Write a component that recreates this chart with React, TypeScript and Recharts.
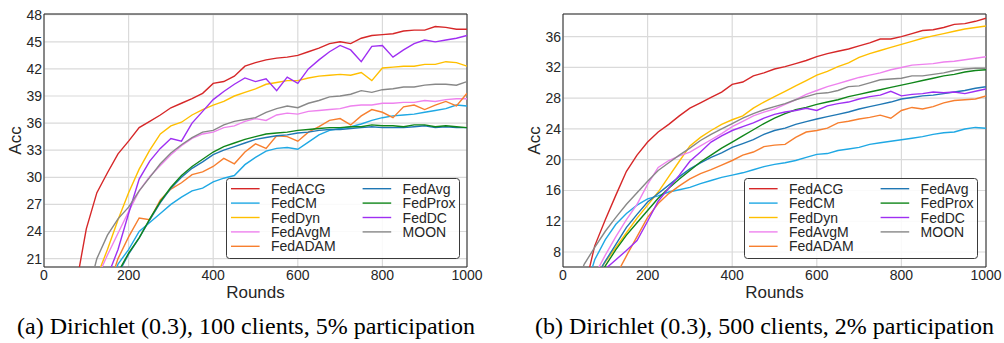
import React from 'react';
import { LineChart, Line, XAxis, YAxis, CartesianGrid, Legend, ReferenceArea } from 'recharts';

const ROUNDS = [0, 25, 50, 75, 100, 125, 150, 175, 200, 225, 250, 275, 300, 325, 350, 375, 400, 425, 450, 475, 500, 525, 550, 575, 600, 625, 650, 675, 700, 725, 750, 775, 800, 825, 850, 875, 900, 925, 950, 975, 1000];

const SERIES = ['FedACG', 'FedCM', 'FedDyn', 'FedAvgM', 'FedADAM', 'FedAvg', 'FedProx', 'FedDC', 'MOON'];
const COLORS = ['#d62728', '#1fa8e4', '#ffbf00', '#ee82ee', '#f77f2f', '#1f77b4', '#10861a', '#9f2ff2', '#888888'];

const X_TICKS = [0, 200, 400, 600, 800, 1000];
const A_Y_TICKS = [21, 24, 27, 30, 33, 36, 39, 42, 45, 48];
const B_Y_TICKS = [8, 12, 16, 20, 24, 28, 32, 36];
const A_DOMAIN = [20.07, 48.08];
const B_DOMAIN = [6.05, 38.95];

const CAPTION_A = '(a) Dirichlet (0.3), 100 clients, 5% participation';
const CAPTION_B = '(b) Dirichlet (0.3), 500 clients, 2% participation';

// (a) Dirichlet (0.3), 100 clients, 5% participation
const A_FedACG = [null, null, 14.5, 17.8, 24.3, 28.3, 30.5, 32.6, 34.0, 35.5, 36.2, 36.9, 37.7, 38.2, 38.7, 39.3, 40.4, 40.6, 41.2, 42.3, 42.7, 43.0, 43.2, 43.3, 43.5, 43.9, 44.3, 44.8, 45.0, 44.8, 45.4, 45.7, 45.8, 45.9, 46.2, 46.3, 46.3, 46.7, 46.6, 46.4, 46.4];
const A_FedCM = [null, null, null, null, null, null, 17.0, 20.4, 22.0, 24.0, 25.0, 26.0, 27.0, 27.8, 28.5, 28.8, 29.5, 29.9, 30.2, 31.4, 32.2, 32.9, 33.2, 33.3, 33.1, 33.9, 34.7, 35.2, 35.4, 35.6, 35.9, 36.3, 36.6, 36.8, 36.9, 37.0, 37.2, 37.4, 37.6, 38.0, 37.9];
const A_FedDyn = [null, null, null, null, 16.0, 19.0, 22.0, 25.3, 28.3, 30.9, 33.0, 34.8, 35.7, 36.1, 36.9, 37.5, 38.0, 38.4, 39.0, 39.4, 39.8, 40.3, 40.5, 40.7, 40.7, 41.0, 41.2, 41.3, 41.4, 41.3, 41.6, 40.7, 42.1, 42.2, 42.3, 42.3, 42.5, 42.5, 42.8, 42.7, 42.3];
const A_FedAvgM = [null, null, null, null, 15.0, 18.8, 21.4, 23.8, 26.2, 28.5, 30.1, 31.3, 32.5, 33.5, 34.3, 34.8, 35.0, 35.5, 35.7, 36.2, 36.5, 36.3, 36.9, 37.1, 37.0, 37.3, 37.4, 37.5, 37.6, 37.9, 38.0, 38.0, 38.2, 38.2, 38.3, 38.3, 38.5, 38.4, 38.6, 38.7, 38.7];
const A_FedADAM = [null, null, null, null, null, null, 17.5, 21.0, 23.4, 25.5, 25.3, 27.5, 28.7, 29.4, 30.3, 30.6, 31.2, 32.1, 31.5, 32.8, 33.7, 33.2, 34.6, 34.5, 34.0, 35.0, 35.6, 36.3, 36.5, 35.8, 36.8, 37.5, 37.2, 36.6, 37.8, 38.0, 37.5, 38.0, 38.4, 37.9, 39.3];
const A_FedAvg = [null, null, null, null, null, null, 15.8, 19.3, 21.5, 23.3, 25.3, 27.2, 28.8, 30.0, 31.0, 31.7, 32.5, 33.0, 33.4, 33.8, 34.2, 34.4, 34.6, 34.7, 34.9, 35.0, 35.2, 35.3, 35.3, 35.4, 35.5, 35.6, 35.5, 35.5, 35.5, 35.6, 35.7, 35.5, 35.6, 35.5, 35.5];
const A_FedProx = [null, null, null, null, null, null, 16.0, 19.5, 21.6, 23.3, 25.4, 27.3, 28.9, 30.2, 31.2, 32.0, 32.8, 33.4, 33.8, 34.2, 34.5, 34.8, 34.9, 35.0, 35.2, 35.3, 35.4, 35.5, 35.5, 35.6, 35.6, 35.8, 35.7, 35.7, 35.6, 35.8, 35.8, 35.6, 35.7, 35.6, 35.5];
const A_FedDC = [null, null, null, null, null, null, 19.0, 22.0, 26.0, 29.8, 31.8, 33.2, 34.3, 34.0, 36.0, 37.3, 38.6, 39.5, 40.3, 41.0, 40.6, 40.9, 39.6, 41.1, 40.4, 42.0, 43.0, 43.9, 44.6, 44.1, 42.8, 44.5, 44.6, 43.3, 44.1, 44.8, 45.2, 45.0, 45.2, 45.4, 45.7];
const A_MOON = [null, null, null, null, 16.5, 21.0, 23.6, 25.4, 26.7, 28.5, 30.0, 31.5, 32.7, 33.6, 34.4, 35.0, 35.2, 35.8, 36.2, 36.4, 36.6, 37.2, 37.6, 37.9, 37.7, 38.2, 38.5, 38.9, 39.0, 39.2, 39.6, 39.4, 39.7, 39.8, 40.0, 40.0, 40.2, 40.3, 40.3, 40.2, 40.6];

// (b) Dirichlet (0.3), 500 clients, 2% participation
const B_FedACG = [null, null, 3.0, 8.8, 12.2, 15.4, 18.5, 20.6, 22.3, 23.6, 24.6, 25.7, 26.7, 27.4, 28.1, 28.8, 29.8, 30.1, 30.9, 31.3, 31.8, 32.1, 32.5, 32.9, 33.4, 33.8, 34.1, 34.4, 34.8, 35.2, 35.7, 35.7, 36.0, 36.4, 36.8, 36.9, 37.2, 37.6, 37.7, 38.0, 38.4];
const B_FedCM = [null, null, 2.5, 7.0, 9.6, 11.6, 13.0, 14.1, 14.9, 15.3, 15.8, 16.1, 16.4, 16.9, 17.3, 17.7, 18.0, 18.3, 18.7, 19.1, 19.4, 19.6, 19.9, 20.3, 20.7, 20.8, 21.2, 21.4, 21.6, 22.0, 22.2, 22.4, 22.6, 22.8, 23.0, 23.3, 23.5, 23.6, 24.0, 24.2, 24.1];
const B_FedDyn = [null, null, null, 4.8, 6.7, 8.6, 10.5, 12.4, 14.1, 15.8, 17.8, 19.8, 21.8, 22.9, 23.8, 24.6, 25.2, 25.7, 26.7, 27.5, 28.2, 28.9, 29.6, 30.3, 31.0, 31.5, 32.1, 32.6, 33.3, 33.8, 34.2, 34.6, 35.0, 35.4, 35.8, 36.1, 36.4, 36.7, 37.0, 37.2, 37.4];
const B_FedAvgM = [null, null, null, 5.0, 7.6, 10.0, 12.2, 14.2, 16.8, 19.0, 19.9, 20.5, 21.0, 21.8, 22.6, 23.4, 24.3, 25.0, 25.7, 26.2, 26.6, 27.2, 27.8, 28.5, 29.0, 29.5, 29.9, 30.3, 30.7, 31.0, 31.3, 31.7, 32.0, 32.3, 32.4, 32.5, 32.7, 32.8, 33.0, 33.2, 33.4];
const B_FedADAM = [null, null, null, null, null, 4.9, 7.5, 10.0, 12.5, 14.3, 15.6, 16.6, 17.5, 18.2, 18.7, 19.3, 19.9, 20.6, 21.0, 21.7, 21.9, 22.0, 22.9, 23.6, 23.8, 24.1, 24.8, 25.0, 25.3, 25.5, 25.8, 25.4, 26.4, 26.8, 26.6, 26.9, 27.4, 27.7, 27.8, 27.9, 28.3];
const B_FedAvg = [null, null, null, 4.5, 6.8, 9.0, 11.2, 12.9, 14.5, 15.6, 16.7, 17.8, 18.8, 19.6, 20.3, 20.9, 21.6, 22.1, 22.6, 23.3, 23.8, 24.1, 24.6, 24.95, 25.3, 25.6, 25.9, 26.2, 26.6, 26.9, 27.2, 27.5, 27.9, 28.1, 28.3, 28.4, 28.6, 28.8, 29.0, 29.3, 29.5];
const B_FedProx = [null, null, null, 3.5, 6.2, 8.3, 10.2, 11.8, 13.4, 15.0, 16.3, 17.5, 18.6, 19.7, 20.6, 21.5, 22.3, 23.1, 23.9, 24.7, 25.4, 26.0, 26.5, 26.8, 27.2, 27.5, 27.8, 28.2, 28.5, 28.8, 29.1, 29.4, 29.7, 30.0, 30.3, 30.6, 30.9, 31.1, 31.4, 31.6, 31.7];
const B_FedDC = [null, null, null, 2.0, 5.8, 7.0, 8.2, 9.5, 12.0, 14.6, 16.3, 18.0, 19.8, 21.0, 22.3, 23.1, 23.8, 24.3, 24.8, 25.4, 25.9, 26.2, 26.4, 26.7, 26.4, 27.0, 27.3, 27.5, 27.9, 28.2, 28.4, 28.9, 28.3, 28.5, 28.6, 28.8, 28.7, 28.8, 28.6, 28.9, 29.2];
const B_MOON = [null, 2.5, 6.4, 8.6, 10.7, 12.5, 14.2, 15.7, 17.2, 18.6, 19.6, 20.6, 21.5, 22.5, 23.3, 24.0, 24.7, 25.4, 26.0, 26.5, 26.9, 27.3, 27.8, 28.2, 28.6, 28.7, 29.0, 29.5, 29.6, 30.0, 30.4, 30.5, 30.6, 30.9, 30.9, 31.1, 31.3, 31.6, 31.8, 31.9, 31.9];

const A_VALUES = [A_FedACG, A_FedCM, A_FedDyn, A_FedAvgM, A_FedADAM, A_FedAvg, A_FedProx, A_FedDC, A_MOON];
const B_VALUES = [B_FedACG, B_FedCM, B_FedDyn, B_FedAvgM, B_FedADAM, B_FedAvg, B_FedProx, B_FedDC, B_MOON];

const buildRows = (values: (number | null)[][]) =>
  ROUNDS.map((r, i) => {
    const row: Record<string, number | null> = { round: r };
    SERIES.forEach((name, k) => {
      row[name] = values[k][i];
    });
    return row;
  });

const SANS = 'Liberation Sans, Arial, sans-serif';
const SERIF = 'Liberation Serif, Tinos, Times New Roman, Times, DejaVu Serif, serif';
const TEXT = '#262626';

const LegendBox = () => {
  return (
    <svg width={234} height={81} style={{ display: 'block' }}>
      <rect x={0.5} y={0.5} width={233} height={80} rx={3} ry={3} fill="#ffffff" fillOpacity={0.85} stroke="#3a3a3a" strokeWidth={1} />
      {SERIES.map((name, i) => {
        const col = i < 5 ? 0 : 1;
        const row = i < 5 ? i : i - 5;
        const x0 = col === 0 ? 5 : 136.6;
        const y = 10.7 + row * 14.4;
        return (
          <g key={name}>
            <line x1={x0} x2={x0 + 28.6} y1={y} y2={y} stroke={COLORS[i]} strokeWidth={1.4} />
            <text x={x0 + 40} y={y} dominantBaseline="central" fontSize={14} fill={TEXT} style={{ fontFamily: SANS }}>
              {name}
            </text>
          </g>
        );
      })}
    </svg>
  );
};

type PanelProps = {
  values: (number | null)[][];
  yTicks: number[];
  domain: number[];
  yAxisWidth: number;
  rightMargin: number;
  labelDx: number;
  legendLeft: number;
};

const Panel = ({ values, yTicks, domain, yAxisWidth, rightMargin, labelDx, legendLeft }: PanelProps) => {
  const rows = buildRows(values);
  return (
    <LineChart width={yAxisWidth + 423 + rightMargin} height={310} data={rows} margin={{ top: 14, right: rightMargin, bottom: 0, left: 0 }}>
      <CartesianGrid stroke="#dadada" strokeWidth={1.2} />
      <XAxis
        dataKey="round"
        type="number"
        domain={[0, 1000]}
        ticks={X_TICKS}
        allowDataOverflow
        axisLine={false}
        tickLine={false}
        tickSize={0}
        tickMargin={3}
        height={43}
        interval={0}
        tick={{ fontSize: 14, fill: TEXT, fontFamily: SANS }}
        label={{ value: 'Rounds', position: 'center', dy: 3, fontSize: 17, fill: TEXT, fontFamily: SANS }}
      />
      <YAxis
        type="number"
        domain={domain}
        ticks={yTicks}
        allowDataOverflow
        axisLine={false}
        tickLine={false}
        tickSize={0}
        tickMargin={2}
        width={yAxisWidth}
        interval={0}
        tick={{ fontSize: 14, fill: TEXT, fontFamily: SANS }}
        label={{ value: 'Acc', angle: -90, position: 'center', dx: labelDx, fontSize: 17, fill: TEXT, fontFamily: SANS }}
      />
      {SERIES.map((name, k) => (
        <Line
          key={name}
          type="linear"
          dataKey={name}
          name={name}
          stroke={COLORS[k]}
          strokeWidth={1.4}
          dot={false}
          activeDot={false}
          isAnimationActive={false}
        />
      ))}
      <ReferenceArea x1={0} x2={1000} y1={domain[0]} y2={domain[1]} fill="none" stroke="#262626" strokeWidth={1} ifOverflow="visible" />
      <Legend
        content={LegendBox}
        layout="vertical"
        align="center"
        verticalAlign="middle"
        wrapperStyle={{ left: legendLeft, top: 178.3, width: 234, height: 81 }}
      />
    </LineChart>
  );
};

export default function App() {
  return (
    <div style={{ position: 'absolute', left: 0, top: 0, width: 1004, height: 343, background: '#ffffff', overflow: 'hidden' }}>
      <div style={{ position: 'absolute', left: 0, top: 0 }}>
        <Panel values={A_VALUES} yTicks={A_Y_TICKS} domain={A_DOMAIN} yAxisWidth={44} rightMargin={33} labelDx={-7} legendLeft={225.7} />
      </div>
      <div style={{ position: 'absolute', left: 500, top: 0 }}>
        <Panel values={B_VALUES} yTicks={B_Y_TICKS} domain={B_DOMAIN} yAxisWidth={63} rightMargin={19} labelDx={2.5} legendLeft={244.3} />
      </div>
      <div style={{ position: 'absolute', left: 0, top: 312, width: 492, textAlign: 'center', fontFamily: SERIF, fontSize: 24, lineHeight: '28px', color: '#000', whiteSpace: 'nowrap' }}>
        {CAPTION_A}
      </div>
      <div style={{ position: 'absolute', left: 518.5, top: 312, width: 492, textAlign: 'center', fontFamily: SERIF, fontSize: 24, lineHeight: '28px', color: '#000', whiteSpace: 'nowrap' }}>
        {CAPTION_B}
      </div>
    </div>
  );
}
